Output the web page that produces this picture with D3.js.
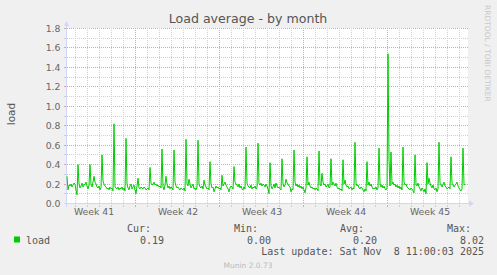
<!DOCTYPE html>
<html>
<head>
<meta charset="utf-8">
<script src="https://cdn.jsdelivr.net/npm/d3@7"></script>
<style>
  html, body { margin: 0; padding: 0; background: #f0f0f0; }
  svg { display: block; }
</style>
</head>
<body>
<div id="chart"></div>
<script>
// Munin "Load average - by month", 2 hour samples
const title = "Load average - by month";
const yLabel = "load";
const seriesName = "load";
const startTime = Date.UTC(2025, 9, 7, 7, 0); // first sample
const stepMs = 2 * 3600 * 1000;
const yTicks = [0.0, 0.2, 0.4, 0.6, 0.8, 1.0, 1.2, 1.4, 1.6, 1.8];
const weekMids = [Date.UTC(2025, 9, 9, 12), Date.UTC(2025, 9, 16, 12), Date.UTC(2025, 9, 23, 12),
                  Date.UTC(2025, 9, 30, 12), Date.UTC(2025, 10, 6, 12)];
const legendHeads = ["Cur:", "Min:", "Avg:", "Max:"];
const legendValues = ["0.19", "0.00", "0.20", "8.02"];
const lastUpdate = "Last update: Sat Nov  8 11:00:03 2025";

const load = [
  0.28, 0.14, 0.19, 0.18, 0.20, 0.17, 0.19, 0.21, 0.20, 0.14, 0.09, 0.40,
  0.20, 0.16, 0.18, 0.21, 0.17, 0.19, 0.20, 0.22, 0.18, 0.15, 0.19, 0.40,
  0.19, 0.17, 0.22, 0.28, 0.22, 0.20, 0.17, 0.16, 0.18, 0.14, 0.16, 0.50,
  0.23, 0.20, 0.18, 0.17, 0.15, 0.16, 0.14, 0.17, 0.15, 0.16, 0.13, 0.82,
  0.17, 0.16, 0.15, 0.17, 0.14, 0.16, 0.15, 0.17, 0.14, 0.16, 0.13, 0.67,
  0.20, 0.16, 0.14, 0.18, 0.20, 0.15, 0.17, 0.19, 0.14, 0.10, 0.18, 0.26,
  0.16, 0.15, 0.17, 0.16, 0.15, 0.17, 0.16, 0.14, 0.15, 0.16, 0.14, 0.37,
  0.21, 0.19, 0.20, 0.22, 0.19, 0.20, 0.18, 0.19, 0.17, 0.18, 0.16, 0.56,
  0.17, 0.14, 0.19, 0.28, 0.20, 0.16, 0.18, 0.15, 0.17, 0.16, 0.14, 0.55,
  0.22, 0.18, 0.16, 0.17, 0.15, 0.14, 0.16, 0.15, 0.14, 0.16, 0.13, 0.66,
  0.20, 0.18, 0.25, 0.20, 0.16, 0.18, 0.20, 0.15, 0.16, 0.14, 0.17, 0.65,
  0.20, 0.17, 0.16, 0.18, 0.15, 0.24, 0.19, 0.17, 0.15, 0.16, 0.14, 0.43,
  0.20, 0.16, 0.17, 0.12, 0.15, 0.18, 0.16, 0.17, 0.15, 0.16, 0.14, 0.29,
  0.18, 0.20, 0.22, 0.19, 0.17, 0.15, 0.12, 0.16, 0.18, 0.17, 0.15, 0.38,
  0.22, 0.20, 0.19, 0.17, 0.20, 0.16, 0.18, 0.15, 0.14, 0.17, 0.15, 0.58,
  0.21, 0.18, 0.17, 0.16, 0.19, 0.15, 0.17, 0.16, 0.18, 0.15, 0.16, 0.62,
  0.20, 0.19, 0.21, 0.18, 0.20, 0.19, 0.17, 0.20, 0.18, 0.15, 0.10, 0.42,
  0.18, 0.15, 0.17, 0.20, 0.16, 0.21, 0.18, 0.16, 0.17, 0.15, 0.14, 0.46,
  0.20, 0.17, 0.19, 0.25, 0.21, 0.20, 0.18, 0.17, 0.12, 0.15, 0.14, 0.55,
  0.22, 0.18, 0.20, 0.17, 0.19, 0.16, 0.18, 0.15, 0.17, 0.14, 0.11, 0.16, 0.48,
  0.19, 0.22, 0.18, 0.16, 0.17, 0.15, 0.16, 0.14, 0.16, 0.15, 0.13, 0.54,
  0.20, 0.18, 0.31, 0.22, 0.19, 0.20, 0.17, 0.18, 0.20, 0.16, 0.17, 0.46,
  0.19, 0.22, 0.20, 0.18, 0.21, 0.17, 0.15, 0.16, 0.14, 0.15, 0.13, 0.45,
  0.20, 0.24, 0.19, 0.17, 0.18, 0.15, 0.16, 0.17, 0.14, 0.16, 0.15, 0.63,
  0.21, 0.18, 0.19, 0.16, 0.15, 0.17, 0.16, 0.14, 0.12, 0.15, 0.13, 0.43,
  0.19, 0.22, 0.18, 0.20, 0.17, 0.15, 0.16, 0.15, 0.17, 0.14, 0.16, 0.57,
  0.21, 0.17, 0.19, 0.16, 0.18, 0.15, 0.14, 0.16, 1.54, 0.45, 0.18, 0.53, 0.20,
  0.22, 0.19, 0.20, 0.17, 0.19, 0.16, 0.18, 0.15, 0.17, 0.14, 0.58,
  0.22, 0.19, 0.20, 0.17, 0.16, 0.15, 0.14, 0.16, 0.15, 0.13, 0.11, 0.50,
  0.20, 0.18, 0.21, 0.17, 0.15, 0.13, 0.16, 0.14, 0.12, 0.15, 0.10, 0.42,
  0.20, 0.26, 0.21, 0.18, 0.16, 0.19, 0.15, 0.14, 0.16, 0.12, 0.15, 0.63,
  0.21, 0.19, 0.17, 0.20, 0.22, 0.18, 0.17, 0.15, 0.16, 0.17, 0.15, 0.48,
  0.21, 0.19, 0.17, 0.19, 0.20, 0.22, 0.18, 0.16, 0.14, 0.13, 0.15, 0.57,
  0.20, 0.19
];

const W = 497, H = 275;
const plot = { left: 67, right: 468, top: 28, bottom: 203.5 };
const axisColor = "#cfd6f8";
const minorGrid = "#cfcfcf";
const majorGrid = "#e3a3a3";
const fontSans = "'DejaVu Sans', sans-serif";
const fontMono = "'DejaVu Sans Mono', monospace";

const svg = d3.select("#chart").append("svg")
  .attr("width", W)
  .attr("height", H);

svg.append("rect").attr("width", W).attr("height", H).attr("fill", "#f0f0f0");

const x = d3.scaleUtc()
  .domain([startTime, startTime + 401 * stepMs])
  .range([plot.left, plot.right]);

const y = d3.scaleLinear()
  .domain([0, 1.8])
  .range([plot.bottom, plot.top + 0.5]);

const crisp = v => Math.round(v - 0.5) + 0.5;

// canvas
svg.append("rect")
  .attr("x", plot.left).attr("y", plot.top)
  .attr("width", plot.right - plot.left).attr("height", plot.bottom - plot.top)
  .attr("fill", "#ffffff");

const grid = svg.append("g").attr("shape-rendering", "crispEdges");

// horizontal grid, every 0.1, red every 0.2
d3.range(1, 19).forEach(k => {
  const v = k / 10;
  grid.append("line")
    .attr("x1", plot.left).attr("x2", plot.right)
    .attr("y1", crisp(y(v))).attr("y2", crisp(y(v)))
    .attr("stroke", k % 2 === 0 ? majorGrid : minorGrid)
    .attr("stroke-dasharray", "1,1");
  grid.append("line")
    .attr("x1", plot.left - 3).attr("x2", plot.left - 1)
    .attr("y1", crisp(y(v))).attr("y2", crisp(y(v)))
    .attr("stroke", k % 2 === 0 ? majorGrid : minorGrid);
});

// vertical grid, days and weeks
const [t0, t1] = x.domain();
const days = d3.utcDay.range(t0, t1);
const weeks = d3.utcMonday.range(t0, t1);
days.filter(d => d.getUTCDay() !== 1).forEach(d => {
  grid.append("line")
    .attr("x1", crisp(x(d))).attr("x2", crisp(x(d)))
    .attr("y1", plot.top).attr("y2", plot.bottom)
    .attr("stroke", minorGrid)
    .attr("stroke-dasharray", "1,1");
  grid.append("line")
    .attr("x1", crisp(x(d))).attr("x2", crisp(x(d)))
    .attr("y1", plot.bottom + 1).attr("y2", plot.bottom + 3)
    .attr("stroke", minorGrid);
});
weeks.forEach(d => {
  grid.append("line")
    .attr("x1", crisp(x(d))).attr("x2", crisp(x(d)))
    .attr("y1", plot.top).attr("y2", plot.bottom)
    .attr("stroke", majorGrid)
    .attr("stroke-dasharray", "1,1");
  grid.append("line")
    .attr("x1", crisp(x(d))).attr("x2", crisp(x(d)))
    .attr("y1", plot.bottom + 1).attr("y2", plot.bottom + 3)
    .attr("stroke", majorGrid);
});

// axes lines with arrows
const axes = svg.append("g");
axes.append("line")
  .attr("x1", plot.left - 0.5).attr("x2", plot.left - 0.5)
  .attr("y1", plot.bottom + 3).attr("y2", 24)
  .attr("stroke", axisColor).attr("shape-rendering", "crispEdges");
axes.append("path")
  .attr("d", `M${plot.left - 3},26 L${plot.left + 2},26 L${plot.left - 0.5},21 Z`)
  .attr("fill", axisColor);
axes.append("line")
  .attr("x1", plot.left - 3).attr("x2", plot.right + 2)
  .attr("y1", plot.bottom).attr("y2", plot.bottom)
  .attr("stroke", axisColor).attr("shape-rendering", "crispEdges");
axes.append("path")
  .attr("d", `M${plot.right + 1},${plot.bottom - 3} L${plot.right + 1},${plot.bottom + 3} L${plot.right + 6},${plot.bottom} Z`)
  .attr("fill", axisColor);

// y tick labels
const yAxis = svg.append("g")
  .attr("transform", `translate(${plot.left - 0.5},0)`)
  .call(d3.axisLeft(y).tickValues(yTicks).tickFormat(d3.format(".1f")).tickSize(0).tickPadding(6));
yAxis.select(".domain").remove();
yAxis.selectAll("text")
  .attr("fill", "#666666")
  .style("font-family", fontSans)
  .style("font-size", "9.3px");

// x tick labels
const xAxis = svg.append("g")
  .attr("transform", `translate(0,${plot.bottom})`)
  .call(d3.axisBottom(x).tickValues(weekMids.map(d => new Date(d)))
    .tickFormat(d => "Week " + +d3.utcFormat("%V")(d)).tickSize(0).tickPadding(5));
xAxis.select(".domain").remove();
xAxis.selectAll("text")
  .attr("fill", "#666666")
  .style("font-family", fontSans)
  .style("font-size", "9.3px");

// data line
const line = d3.line()
  .x((d, i) => x(startTime + i * stepMs))
  .y(d => y(d));
svg.append("path")
  .datum(load)
  .attr("d", line)
  .attr("fill", "none")
  .attr("stroke", "#00cc00")
  .attr("stroke-width", 1);

// title and labels
svg.append("text")
  .attr("x", 248).attr("y", 23)
  .attr("text-anchor", "middle")
  .attr("fill", "#555555")
  .style("font-family", fontSans)
  .style("font-size", "12.6px")
  .text(title);

svg.append("text")
  .attr("transform", "translate(14.5,114) rotate(-90)")
  .attr("text-anchor", "middle")
  .attr("fill", "#555555")
  .style("font-family", fontSans)
  .style("font-size", "10.5px")
  .text(yLabel);

svg.append("text")
  .attr("transform", "translate(485,5) rotate(90)")
  .attr("fill", "#c8c8c8")
  .style("font-family", fontSans)
  .style("font-size", "7.5px")
  .text("RRDTOOL / TOBI OETIKER");

// legend
const legend = svg.append("g")
  .attr("fill", "#555555")
  .style("font-family", fontMono)
  .style("font-size", "10px");
const headX = [151, 258, 364, 471];
legendHeads.forEach((h, i) => {
  legend.append("text").attr("x", headX[i]).attr("y", 232)
    .attr("text-anchor", "end").text(h);
  legend.append("text").attr("x", headX[i] + 13).attr("y", 243.5)
    .attr("text-anchor", "end").text(legendValues[i]);
});
legend.append("rect")
  .attr("x", 14).attr("y", 236.5).attr("width", 6).attr("height", 6)
  .attr("fill", "#00cc00");
legend.append("text").attr("x", 26).attr("y", 243.5).text(seriesName);
legend.append("text").attr("x", 484).attr("y", 255)
  .attr("text-anchor", "end")
  .style("white-space", "pre")
  .attr("xml:space", "preserve")
  .text(lastUpdate);

svg.append("text")
  .attr("x", 248).attr("y", 268)
  .attr("text-anchor", "middle")
  .attr("fill", "#bbbbbb")
  .style("font-family", fontSans)
  .style("font-size", "7.5px")
  .text("Munin 2.0.73");
</script>
</body>
</html>
